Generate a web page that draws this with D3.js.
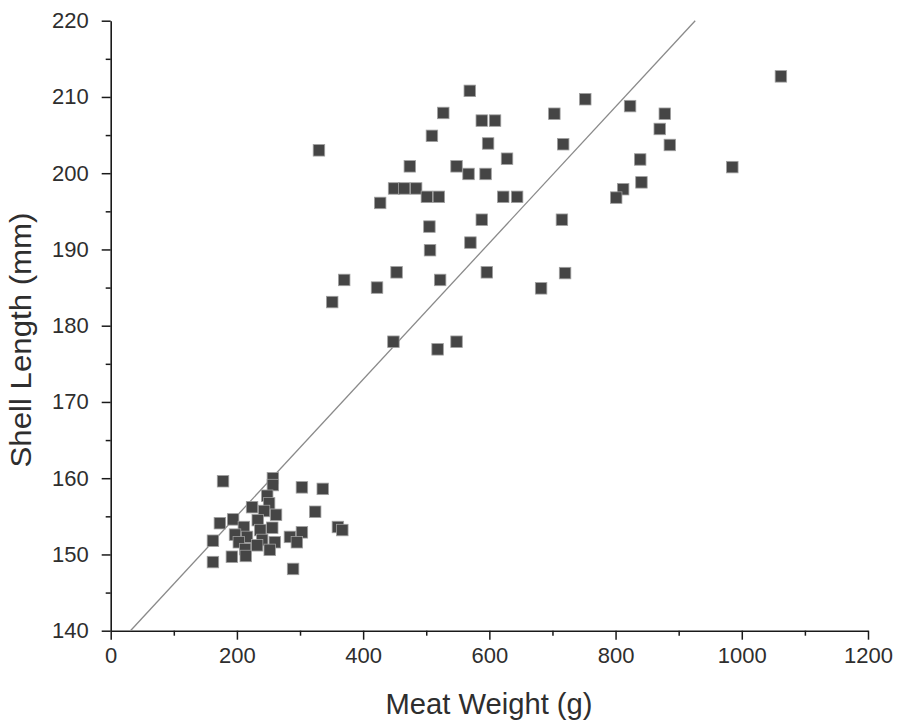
<!DOCTYPE html>
<html>
<head>
<meta charset="utf-8">
<script src="https://cdn.jsdelivr.net/npm/d3@7"></script>
<style>
  html, body { margin: 0; padding: 0; background: #fff; }
  svg { display: block; font-family: "Liberation Sans", Arial, sans-serif; }
</style>
</head>
<body>
<svg id="chart" width="902" height="726"></svg>
<script>
// Meat weight (g)
const meatWeight = [
  569, 527, 588, 609, 509, 598, 330, 474, 548, 567, 594, 449, 465, 484, 501, 520, 427,
  505, 588, 506, 570, 453, 522, 596, 370, 422, 351, 448, 518, 548,
  752, 703, 823, 878, 870, 886, 717, 628, 839, 841, 812, 801, 622, 644, 715, 720, 682,
  1062, 985,
  178, 257, 257, 303, 336, 248, 251, 324, 360, 367, 303, 284, 295, 289,
  224, 243, 262, 233, 173, 194, 211, 237, 256, 197, 216, 240, 260, 162, 203, 213, 232, 252, 192, 214, 162
];
// Shell length (mm)
const shellLength = [
  210.8, 207.9, 206.9, 206.9, 204.9, 203.9, 203.0, 200.9, 200.9, 199.9, 199.9, 198.0, 198.0, 198.0, 196.9, 196.9, 196.1,
  193.0, 193.9, 189.9, 190.9, 187.0, 186.0, 187.0, 186.0, 185.0, 183.1, 177.9, 176.9, 177.9,
  209.7, 207.8, 208.8, 207.8, 205.8, 203.7, 203.8, 201.9, 201.8, 198.8, 197.9, 196.8, 196.9, 196.9, 193.9, 186.9, 184.9,
  212.7, 200.8,
  159.6, 160.0, 159.1, 158.8, 158.6, 157.7, 156.7, 155.6, 153.6, 153.2, 152.9, 152.3, 151.6, 148.1,
  156.2, 155.7, 155.2, 154.5, 154.1, 154.6, 153.6, 153.2, 153.5, 152.6, 152.3, 151.9, 151.6, 151.8, 151.6, 150.7, 151.2, 150.6, 149.7, 149.8, 149.0
];
// Fitted line: shell = intercept + slope * weight
const fitIntercept = [137.2];
const fitSlope = [0.0894];

const xTicks = [0, 200, 400, 600, 800, 1000, 1200];
const xMinorTicks = [100, 300, 500, 700, 900, 1100];
const yTicks = [140, 150, 160, 170, 180, 190, 200, 210, 220];
const yMinorTicks = [145, 155, 165, 175, 185, 195, 205, 215];

const xLabel = "Meat Weight (g)";
const yLabel = "Shell Length (mm)";

(function () {
const svg = d3.select("#chart");
const mLeft = 110.7, mRight = 868, mTop = 20.7, mBottom = 630.7;

const x = d3.scaleLinear().domain([0, 1200]).range([mLeft, mRight]);
const y = d3.scaleLinear().domain([140, 220]).range([mBottom, mTop]);

const axisColor = "#1a1a1a";
const textColor = "#2e2e2e";
const fontFam = "Liberation Sans, Arial, sans-serif";

// X axis
const gx = svg.append("g").attr("transform", `translate(0,${mBottom})`);
gx.call(d3.axisBottom(x).tickValues(xTicks).tickSize(9).tickSizeOuter(0).tickPadding(8).tickFormat(d3.format("d")));
gx.append("g").call(d3.axisBottom(x).tickValues(xMinorTicks).tickSize(5).tickSizeOuter(0).tickFormat(""))
  .select(".domain").remove();
gx.selectAll("path.domain").attr("stroke", axisColor).attr("stroke-width", 1.6);
gx.selectAll("line").attr("stroke", axisColor).attr("stroke-width", 1.5);
gx.selectAll("text").attr("fill", textColor).attr("font-size", 22).attr("font-family", fontFam);

// Y axis
const gy = svg.append("g").attr("transform", `translate(${mLeft},0)`);
gy.call(d3.axisLeft(y).tickValues(yTicks).tickSize(9).tickSizeOuter(0).tickPadding(13).tickFormat(d3.format("d")));
gy.append("g").call(d3.axisLeft(y).tickValues(yMinorTicks).tickSize(5).tickSizeOuter(0).tickFormat(""))
  .select(".domain").remove();
gy.selectAll("path.domain").attr("stroke", axisColor).attr("stroke-width", 1.6);
gy.selectAll("line").attr("stroke", axisColor).attr("stroke-width", 1.5);
gy.selectAll("text").attr("fill", textColor).attr("font-size", 22).attr("font-family", fontFam);

// Fitted line
const x0 = (140 - fitIntercept[0]) / fitSlope[0];
const x1 = (220 - fitIntercept[0]) / fitSlope[0];
svg.append("line")
  .attr("x1", x(x0)).attr("y1", y(fitIntercept[0] + fitSlope[0] * x0))
  .attr("x2", x(x1)).attr("y2", y(fitIntercept[0] + fitSlope[0] * x1))
  .attr("stroke", "#8a8a8a").attr("stroke-width", 1.3);

// Points
const pts = meatWeight.map((w, i) => ({ w, s: shellLength[i] }));
const sz = 11.5;
svg.append("g").selectAll("rect").data(pts).join("rect")
  .attr("x", d => x(d.w) - sz / 2)
  .attr("y", d => y(d.s) - sz / 2)
  .attr("width", sz).attr("height", sz)
  .attr("fill", "#454545")
  .attr("stroke", "#a0a0a0")
  .attr("stroke-width", 0.8);

// Axis titles
svg.append("text")
  .attr("x", 489).attr("y", 714)
  .attr("text-anchor", "middle")
  .attr("font-size", 29).attr("fill", textColor).attr("font-family", fontFam)
  .attr("textLength", 207).attr("lengthAdjust", "spacingAndGlyphs")
  .text(xLabel);

svg.append("text")
  .attr("transform", `translate(31,340) rotate(-90)`)
  .attr("text-anchor", "middle")
  .attr("font-size", 29).attr("fill", textColor).attr("font-family", fontFam)
  .attr("textLength", 255).attr("lengthAdjust", "spacingAndGlyphs")
  .text(yLabel);
})();
</script>
</body>
</html>
